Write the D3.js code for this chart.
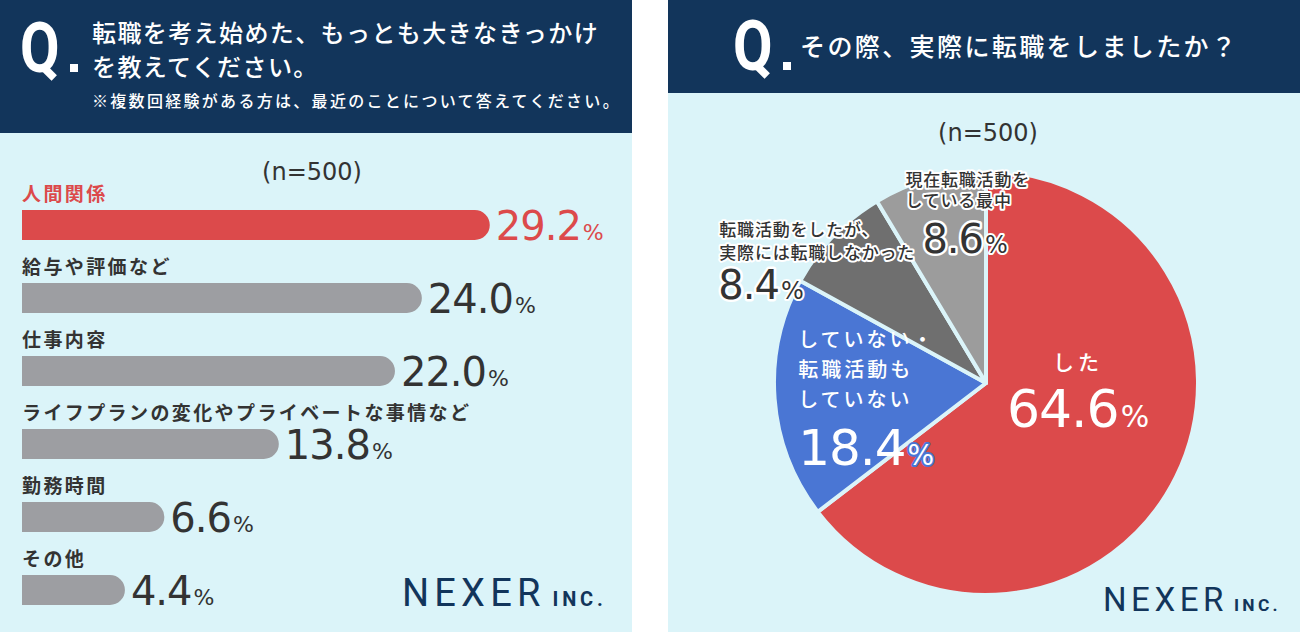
<!DOCTYPE html>
<html><head><meta charset="utf-8">
<script src="https://cdn.jsdelivr.net/npm/d3@7"></script>
<style>
html,body{margin:0;padding:0;background:#fff;}
svg{display:block;}
.jp{font-family:"Noto Sans CJK JP","Noto Sans",sans-serif;}
.num{font-family:"DejaVu Sans",sans-serif;}
</style></head>
<body>
<svg id="c" width="1300" height="632"></svg>
<script>
// ---------- data ----------
const barTitleLines = ["転職を考え始めた、もっとも大きなきっかけ", "を教えてください。"];
const barNote = "※複数回経験がある方は、最近のことについて答えてください。";
const barCategories = ["人間関係", "給与や評価など", "仕事内容", "ライフプランの変化やプライベートな事情など", "勤務時間", "その他"];
const barValues = [29.2, 24.0, 22.0, 13.8, 6.6, 4.4];
const sampleLabel = "(n=500)";

const pieTitle = "その際、実際に転職をしましたか？";
const pieLabels = [["した"], ["していない・", "転職活動も", "していない"], ["転職活動をしたが、", "実際には転職しなかった"], ["現在転職活動を", "している最中"]];
const pieValues = [64.6, 18.4, 8.4, 8.6];

// ---------- styles ----------
const NAVY = "#12355b", BG = "#dbf4f9", RED = "#dc4a4b", GREY = "#9d9ea2", DARK = "#333333";
const pieColors = ["#dc4a4b", "#4a76d4", "#6f6f6f", "#9c9c9c"];

const svg = d3.select("#c");

// panels
svg.append("rect").attr("x", 0).attr("y", 0).attr("width", 632).attr("height", 632).attr("fill", BG);
svg.append("rect").attr("x", 0).attr("y", 0).attr("width", 632).attr("height", 133).attr("fill", NAVY);
svg.append("rect").attr("x", 668).attr("y", 0).attr("width", 632).attr("height", 632).attr("fill", BG);
svg.append("rect").attr("x", 668).attr("y", 0).attr("width", 632).attr("height", 93).attr("fill", NAVY);

function drawQ(x, y) {
  svg.append("text").attr("x", x).attr("y", y).attr("fill", "#fff")
    .attr("font-family", "Roboto, sans-serif").attr("font-weight", 700)
    .attr("font-size", 70).attr("transform", `translate(${x},${y}) scale(0.82,1) translate(${-x},${-y})`).text("Q");
  svg.append("rect").attr("x", x + 50).attr("y", y - 8).attr("width", 8).attr("height", 8).attr("fill", "#fff");
}
drawQ(20, 72);
drawQ(733, 70);

// left title
svg.append("g").selectAll("text").data(barTitleLines).join("text")
  .attr("class", "jp").attr("x", 92).attr("y", (d, i) => 42 + i * 34)
  .attr("fill", "#fff").attr("font-size", 24).attr("font-weight", 500).attr("letter-spacing", 1.4)
  .text(d => d);
svg.append("text").attr("class", "jp").attr("x", 92).attr("y", 107).attr("fill", "#fff")
  .attr("font-size", 16).attr("font-weight", 500).attr("letter-spacing", 2.3).text(barNote);

// right title
svg.append("text").attr("class", "jp").attr("x", 800).attr("y", 56).attr("fill", "#fff")
  .attr("font-size", 25).attr("font-weight", 500).attr("letter-spacing", 2.4).text(pieTitle);

// n labels
svg.append("text").attr("class", "num").attr("x", 312).attr("y", 180).attr("text-anchor", "middle")
  .attr("fill", DARK).attr("font-size", 24).text(sampleLabel);
svg.append("text").attr("class", "num").attr("x", 988).attr("y", 141).attr("text-anchor", "middle")
  .attr("fill", DARK).attr("font-size", 24).text(sampleLabel);

// ---------- bar chart ----------
const x0 = 22;
const xScale = d3.scalePow().exponent(0.8).domain([0, 30]).range([x0, x0 + 478]);
const yBand = d3.scaleBand().domain(barCategories).range([183, 183 + 73 * 6]);
const barH = 30, rr = 15;

const rows = svg.append("g").selectAll("g").data(barCategories).join("g")
  .attr("transform", d => `translate(0,${yBand(d)})`);

rows.append("text").attr("class", "jp").attr("x", x0).attr("y", 18)
  .attr("font-size", 19).attr("font-weight", 700).attr("letter-spacing", 2.4)
  .attr("fill", (d, i) => i === 0 ? RED : DARK).text(d => d);

rows.append("path").attr("fill", (d, i) => i === 0 ? RED : GREY)
  .attr("d", (d, i) => {
    const xe = xScale(barValues[i]);
    const t = 27;
    return `M${x0},${t}H${xe - rr}A${rr},${rr} 0 0 1 ${xe},${t + rr}A${rr},${rr} 0 0 1 ${xe - rr},${t + barH}H${x0}Z`;
  });

const vt = rows.append("text").attr("class", "num").attr("x", (d, i) => xScale(barValues[i]) + 6).attr("y", 57)
  .attr("fill", (d, i) => i === 0 ? RED : DARK);
vt.append("tspan").attr("font-size", 40).attr("letter-spacing", -1).text((d, i) => barValues[i].toFixed(1));
vt.append("tspan").attr("font-size", 22).attr("dx", 2).text("%");

// ---------- pie ----------
const cx = 986, cy = 383, R = 212;
const pie = d3.pie().sort(null).value(d => d);
const arcs = pie(pieValues);
const arc = d3.arc().innerRadius(0).outerRadius(R);
const gp = svg.append("g").attr("transform", `translate(${cx},${cy})`);
gp.selectAll("path").data(arcs).join("path")
  .attr("d", arc).attr("fill", (d, i) => pieColors[i])
  .attr("stroke", BG).attr("stroke-width", 4).attr("stroke-linejoin", "round");

// label layout per slice: centroid radius fraction, offsets
const pieLayout = [
  {k: 0.6, anchor: "middle", dx: -22, lineDy: [-69], lineSize: 21, lineSpacing: 4, numDx: -22, numDy: -12, numSize: 52, pctSize: 30, fill: "#fff", halo: null, pctHalo: null},
  {k: 0.6, anchor: "start", dx: -61, lineDy: [-46, -16, 14], lineSize: 20, lineSpacing: 3, numDx: -61, numDy: 72, numSize: 50, pctSize: 28, fill: "#fff", halo: null, pctHalo: "#4a76d4"},
  {k: 1.0, anchor: "start", dx: -114, lineDy: [0, 23], lineSize: 17, lineSpacing: 0.8, numDx: -115, numDy: 63, numSize: 40, pctSize: 24, fill: DARK, halo: "#fff", pctHalo: "#fff"},
  {k: 1.0, anchor: "start", dx: -24, lineDy: [7, 28], lineSize: 17, lineSpacing: 0.8, numDx: -7, numDy: 74, numSize: 40, pctSize: 24, fill: DARK, halo: "#fff", pctHalo: "#fff"}
];

const gl = svg.append("g").attr("transform", `translate(${cx},${cy})`);
arcs.forEach((a, i) => {
  const L = pieLayout[i];
  const c = d3.arc().innerRadius(0).outerRadius(2 * R * L.k).centroid(a);
  const bx = c[0], by = c[1];
  pieLabels[i].forEach((line, j) => {
    const t = gl.append("text").attr("class", "jp").attr("x", bx + L.dx).attr("y", by + L.lineDy[j])
      .attr("text-anchor", L.anchor).attr("font-size", L.lineSize).attr("font-weight", 500)
      .attr("letter-spacing", L.lineSpacing).attr("fill", L.fill).text(line);
    if (L.halo) t.attr("stroke", L.halo).attr("stroke-width", 4).attr("paint-order", "stroke").attr("stroke-linejoin", "round");
  });
  const nt = gl.append("text").attr("class", "num").attr("x", bx + L.numDx).attr("y", by + L.numDy)
    .attr("text-anchor", L.anchor).attr("fill", L.fill);
  const n1 = nt.append("tspan").attr("font-size", L.numSize).attr("letter-spacing", -1).text(pieValues[i].toFixed(1));
  const n2 = nt.append("tspan").attr("font-size", L.pctSize).attr("dx", 2).text("%");
  if (L.halo) n1.attr("stroke", L.halo).attr("stroke-width", 5).attr("paint-order", "stroke").attr("stroke-linejoin", "round");
  if (L.pctHalo) n2.attr("stroke", L.pctHalo).attr("stroke-width", 4).attr("paint-order", "stroke").attr("stroke-linejoin", "round");
});

// ---------- logos ----------
function logo(x, y, s) {
  const t = svg.append("text").attr("x", x).attr("y", y).attr("fill", NAVY).attr("font-family", "Roboto, sans-serif");
  t.append("tspan").attr("font-size", 38 * s).attr("font-weight", 400).attr("letter-spacing", 5.2 * s).text("NEXER");
  t.append("tspan").attr("font-size", 20 * s).attr("font-weight", 700).attr("letter-spacing", 3.8 * s).attr("dx", 7 * s).text("INC.");
}
logo(402, 606, 1);
logo(1103, 611, 0.87);
</script>
</body></html>
